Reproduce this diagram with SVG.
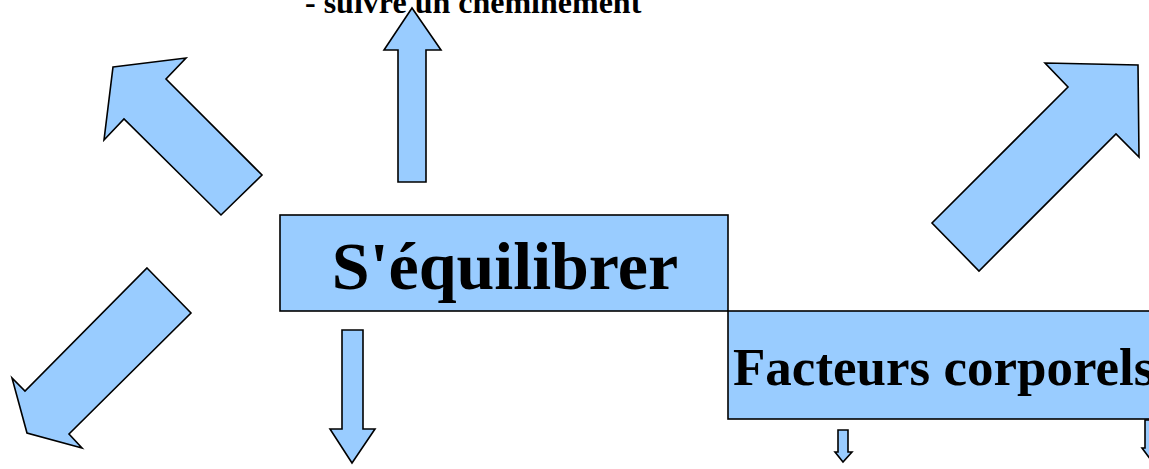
<svg xmlns="http://www.w3.org/2000/svg" width="1149" height="469" viewBox="0 0 1149 469">
<style>
.shape{fill:#99ccff;stroke:#000;stroke-width:1.6;stroke-linejoin:miter}
.t{font-family:"Liberation Serif","Times New Roman",serif;font-weight:bold;fill:#000}
</style>
<rect width="1149" height="469" fill="#fff"/>
<g id="label-top">
<text class="t" x="305" y="13" font-size="32">- suivre un cheminement</text>
</g>
<g id="connectors">
<polygon class="shape" points="398,182 398,50 384,50 412,8 441,50 426,50 426,182"/>
<polygon class="shape" points="113,67 186,58 166,79 262,175 221,215 124,119 104,140"/>
<polygon class="shape" points="147,268 191,313 69,434 82,448 27,433 12,378 25,391"/>
<polygon class="shape" points="1045,63 1138,65 1139,157 1116,134 979,271 932,223 1068,87"/>
<polygon class="shape" points="342,330 363,330 363,429 375,429 352,463 330,429 342,429"/>
<polygon class="shape" points="838,430 848,430 848,452 852,452 843,462 835,452 838,452"/>
<polygon class="shape" points="1145,420 1157,420 1157,448 1160,448 1151,460 1142,448 1145,448"/>
</g>
<g id="node-sequilibrer">
<rect class="shape" x="280" y="215" width="448" height="96"/>
<text class="t" x="505" y="289" font-size="68" text-anchor="middle">S'équilibrer</text>
</g>
<g id="node-facteurs">
<rect class="shape" x="728" y="311" width="440" height="108"/>
<text class="t" x="733" y="385" font-size="53">Facteurs corporels</text>
</g>
</svg>
